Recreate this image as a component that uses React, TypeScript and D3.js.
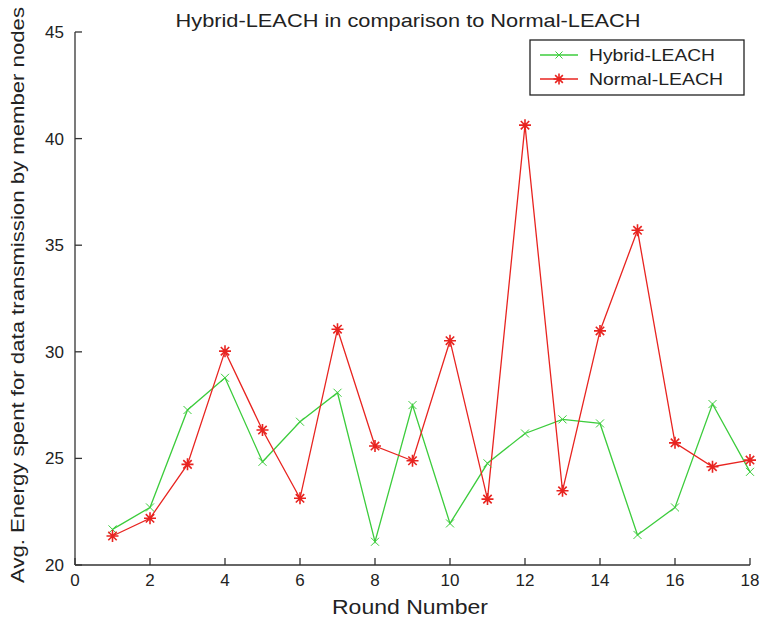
import * as d3 from "d3";

const rounds = [1, 2, 3, 4, 5, 6, 7, 8, 9, 10, 11, 12, 13, 14, 15, 16, 17, 18];
const hybridLeach = [21.67, 22.7, 27.27, 28.78, 24.84, 26.72, 28.08, 21.09, 27.5, 21.95, 24.77, 26.17, 26.83, 26.64, 21.41, 22.7, 27.55, 24.37];
const normalLeach = [21.36, 22.19, 24.72, 30.03, 26.33, 23.13, 31.06, 25.58, 24.89, 30.52, 23.09, 40.63, 23.48, 30.98, 35.7, 25.73, 24.61, 24.92];
const xTicks = [0, 2, 4, 6, 8, 10, 12, 14, 16, 18];
const yTicks = [20, 25, 30, 35, 40, 45];
const seriesNames = ["Hybrid-LEACH", "Normal-LEACH"];

const width = 765;
const height = 625;
const margin = { top: 32, right: 15, bottom: 60, left: 75 };
const green = "#3ccc3c";
const red = "#e82420";
const font = "'Liberation Sans', Arial, sans-serif";

const XMark = ({ x, y, s }) => (
  <path d={`M${x - s},${y - s}L${x + s},${y + s}M${x - s},${y + s}L${x + s},${y - s}`} stroke={green} strokeWidth={1} />
);

const Star = ({ x, y, s }) => (
  <path
    d={`M${x - s},${y}L${x + s},${y}M${x},${y - s}L${x},${y + s}M${x - s * 0.7},${y - s * 0.7}L${x + s * 0.7},${y + s * 0.7}M${x - s * 0.7},${y + s * 0.7}L${x + s * 0.7},${y - s * 0.7}`}
    stroke={red}
    strokeWidth={1.6}
  />
);

const App = () => {
  const innerW = width - margin.left - margin.right;
  const innerH = height - margin.top - margin.bottom;
  const xScale = d3.scaleLinear().domain([0, 18]).range([margin.left, margin.left + innerW]);
  const yScale = d3.scaleLinear().domain([20, 45]).range([margin.top + innerH, margin.top]);

  const line = d3
    .line<number>()
    .x((_, i) => xScale(rounds[i]))
    .y((d) => yScale(d));

  const y0 = yScale(20);
  const x0 = xScale(0);

  return (
    <svg width={width} height={height} style={{ position: "absolute", left: 0, top: 0, background: "#fff" }} fontFamily={font}>
      <text x={408} y={27} textAnchor="middle" fontSize={19} fill="#222" textLength={465} lengthAdjust="spacingAndGlyphs">
        Hybrid-LEACH in comparison to Normal-LEACH
      </text>

      {/* axes */}
      <line x1={x0} x2={xScale(18)} y1={y0} y2={y0} stroke="#333" strokeWidth={1.3} />
      <line x1={x0} x2={x0} y1={y0} y2={yScale(45)} stroke="#333" strokeWidth={1.3} />
      {xTicks.map((t) => (
        <g key={t}>
          <line x1={xScale(t)} x2={xScale(t)} y1={y0} y2={y0 - 7} stroke="#333" strokeWidth={1.3} />
          <text x={xScale(t)} y={y0 + 21} textAnchor="middle" fontSize={17} fill="#222">
            {t}
          </text>
        </g>
      ))}
      {yTicks.map((t) => (
        <g key={t}>
          <line x1={x0} x2={x0 + 7} y1={yScale(t)} y2={yScale(t)} stroke="#333" strokeWidth={1.3} />
          <text x={x0 - 11} y={yScale(t) + 6} textAnchor="end" fontSize={17} fill="#222">
            {t}
          </text>
        </g>
      ))}

      <text x={410} y={614} textAnchor="middle" fontSize={20} fill="#222" textLength={156} lengthAdjust="spacingAndGlyphs">
        Round Number
      </text>
      <text
        transform={`translate(24, 295) rotate(-90)`}
        textAnchor="middle"
        fontSize={18}
        fill="#222"
        textLength={576}
        lengthAdjust="spacingAndGlyphs"
      >
        Avg. Energy spent for data transmission by member nodes
      </text>

      {/* series */}
      <path d={line(hybridLeach) || ""} fill="none" stroke={green} strokeWidth={1.3} />
      <path d={line(normalLeach) || ""} fill="none" stroke={red} strokeWidth={1.3} />
      {hybridLeach.map((v, i) => (
        <XMark key={"h" + i} x={xScale(rounds[i])} y={yScale(v)} s={4} />
      ))}
      {normalLeach.map((v, i) => (
        <Star key={"n" + i} x={xScale(rounds[i])} y={yScale(v)} s={6} />
      ))}

      {/* legend */}
      <rect x={530} y={40} width={214} height={55} fill="#fff" stroke="#222" strokeWidth={1.3} />
      <line x1={540} x2={578} y1={55} y2={55} stroke={green} strokeWidth={1.3} />
      <XMark x={559} y={55} s={3.5} />
      <text x={589} y={61} fontSize={16} fill="#222" textLength={126} lengthAdjust="spacingAndGlyphs">
        {seriesNames[0]}
      </text>
      <line x1={540} x2={578} y1={79} y2={79} stroke={red} strokeWidth={1.3} />
      <Star x={559} y={79} s={5.5} />
      <text x={589} y={85} fontSize={16} fill="#222" textLength={134} lengthAdjust="spacingAndGlyphs">
        {seriesNames[1]}
      </text>
    </svg>
  );
};

export default App;
